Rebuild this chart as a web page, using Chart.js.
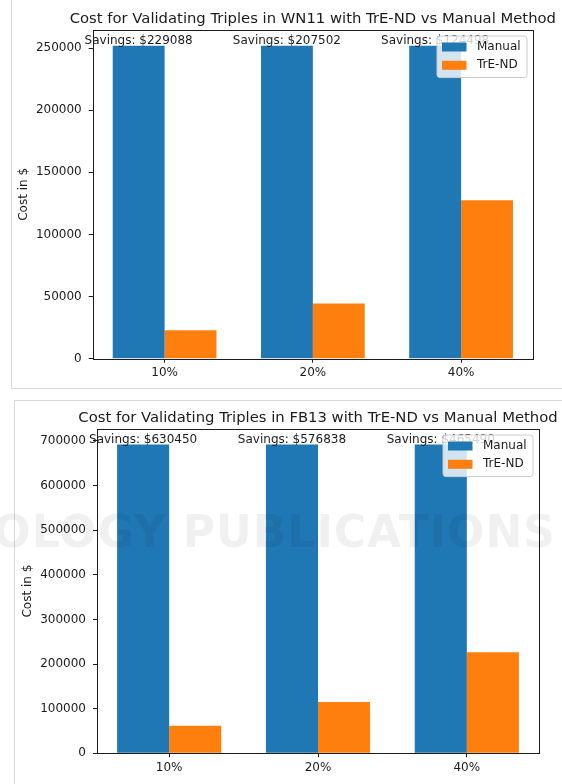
<!DOCTYPE html>
<html>
<head>
<meta charset="utf-8">
<title>Cost for Validating Triples: TrE-ND vs Manual Method</title>
<script src="https://cdn.jsdelivr.net/npm/chart.js@4.4.1/dist/chart.umd.min.js"></script>
<style>
  html, body { margin: 0; padding: 0; background: #ffffff; }
  body { width: 562px; height: 784px; position: relative; overflow: hidden; }
  .frame { position: absolute; border: 0 solid #d9d9d9; box-sizing: border-box; }
  #frame1 { left: 11px; top: 0; width: 551px; height: 389px; border-left-width: 1px; border-bottom-width: 1px; }
  #frame2 { left: 14px; top: 400px; width: 548px; height: 384px; border-left-width: 1px; border-top-width: 1px; }
  canvas { position: absolute; left: 0; }
  #wn11 { top: 0; }
  #fb13 { top: 390px; }
  .mark {
    position: absolute; right: 6px; top: 506px; white-space: nowrap;
    font: bold 44px "DejaVu Sans", sans-serif; letter-spacing: 1px;
    color: rgba(0, 0, 0, 0.06); pointer-events: none;
  }
</style>
</head>
<body>
<div class="frame" id="frame1"></div>
<div class="frame" id="frame2"></div>
<canvas id="wn11" width="562" height="390" style="width:562px;height:390px"></canvas>
<canvas id="fb13" width="562" height="394" style="width:562px;height:394px"></canvas>
<div class="mark">TECHNOLOGY PUBLICATIONS</div>
<script>
// Labelling budgets per dataset
const categories = ['10%', '20%', '40%'];
const seriesLabels = ['Manual', 'TrE-ND'];

// WN11 costs in $
const wn11Manual = [252000, 252000, 252000];
const wn11TrEND = [22912, 44498, 127502];
const wn11Ticks = [0, 50000, 100000, 150000, 200000, 250000];

// FB13 costs in $
const fb13Manual = [692000, 692000, 692000];
const fb13TrEND = [61550, 115162, 226510];
const fb13Ticks = [0, 100000, 200000, 300000, 400000, 500000, 600000, 700000];

const FONT = '"DejaVu Sans", "Liberation Sans", sans-serif';
const INK = '#1c1c1c';
const BLUE = '#1f77b4';
const ORANGE = '#ff7f0e';

// Title, y label, savings annotations, frame and legend
const decor = {
  id: 'decor',
  afterDatasetsDraw(chart) {
    const ctx = chart.ctx;
    const cfg = chart.options.plugins.decor;
    const manualMeta = chart.getDatasetMeta(0);
    ctx.save();
    ctx.fillStyle = INK;
    ctx.font = '12px ' + FONT;
    ctx.textAlign = 'center';
    ctx.textBaseline = 'bottom';
    manualMeta.data.forEach((bar, i) => {
      const saving = cfg.manual[i] - cfg.trend[i];
      ctx.fillText('Savings: $' + saving, bar.x, bar.y + 1);
    });
    ctx.restore();
  },
  afterDraw(chart) {
    const ctx = chart.ctx;
    const ca = chart.chartArea;
    const cfg = chart.options.plugins.decor;
    ctx.save();

    // axes box
    ctx.strokeStyle = INK;
    ctx.lineWidth = 1;
    const l = Math.round(ca.left) + 0.5, t = Math.round(ca.top) + 0.5;
    const r = Math.round(ca.right) + 0.5, b = Math.round(ca.bottom) + 0.5;
    ctx.strokeRect(l, t, r - l, b - t);

    // title
    ctx.fillStyle = INK;
    ctx.font = '14.8px ' + FONT;
    ctx.textAlign = 'center';
    ctx.textBaseline = 'alphabetic';
    ctx.fillText(cfg.title, (ca.left + ca.right) / 2, ca.top - 7);

    // y axis label
    ctx.save();
    ctx.translate(ca.left - 69, (ca.top + ca.bottom) / 2);
    ctx.rotate(-Math.PI / 2);
    ctx.font = '12px ' + FONT;
    ctx.textBaseline = 'middle';
    ctx.fillText('Cost in $', 0, 0);
    ctx.restore();

    // legend
    const lw = 90, lh = 41.6;
    const lx = ca.right - 6 - lw, ly = ca.top + 6;
    ctx.beginPath();
    ctx.roundRect(lx, ly, lw, lh, 3);
    ctx.fillStyle = 'rgba(255,255,255,0.8)';
    ctx.fill();
    ctx.strokeStyle = '#cccccc';
    ctx.lineWidth = 1;
    ctx.stroke();
    const rows = [ly + 11, ly + 29.3];
    chart.data.datasets.forEach((ds, i) => {
      ctx.fillStyle = ds.backgroundColor;
      ctx.fillRect(lx + 5, rows[i] - 4.5, 24.5, 9);
      ctx.fillStyle = INK;
      ctx.font = '12px ' + FONT;
      ctx.textAlign = 'left';
      ctx.textBaseline = 'middle';
      ctx.fillText(ds.label, lx + 40, rows[i]);
    });
    ctx.restore();
  }
};

function makeChart(canvas, title, manual, trend, yTicks, padding) {
  const xs = categories.map((_, i) => i);
  const yMax = Math.max(...manual, ...trend) * 1.05;
  const tickFont = { family: FONT, size: 12 };
  return new Chart(canvas, {
    type: 'bar',
    data: {
      datasets: [
        {
          label: seriesLabels[0],
          data: xs.map((x, i) => ({ x, y: manual[i] })),
          backgroundColor: BLUE, borderWidth: 0,
          categoryPercentage: 0.7, barPercentage: 1.0
        },
        {
          label: seriesLabels[1],
          data: xs.map((x, i) => ({ x, y: trend[i] })),
          backgroundColor: ORANGE, borderWidth: 0,
          categoryPercentage: 0.7, barPercentage: 1.0
        }
      ]
    },
    options: {
      responsive: false,
      animation: false,
      devicePixelRatio: 1,
      layout: { padding },
      events: [],
      plugins: {
        legend: { display: false },
        tooltip: { enabled: false },
        title: { display: false },
        decor: { title, manual, trend }
      },
      scales: {
        x: {
          type: 'linear',
          min: -0.485,
          max: categories.length - 1 + 0.485,
          offset: false,
          afterBuildTicks: s => { s.ticks = xs.map(v => ({ value: v })); },
          afterFit: s => { s.height = 25; },
          ticks: {
            callback: v => categories[v],
            color: INK, font: tickFont, padding: 3,
            maxRotation: 0, autoSkip: false
          },
          grid: { offset: false, drawOnChartArea: false, drawTicks: true, tickLength: 4, color: INK, lineWidth: 1 },
          border: { display: false }
        },
        y: {
          min: 0,
          max: yMax,
          afterBuildTicks: s => { s.ticks = yTicks.map(v => ({ value: v })); },
          afterFit: s => { s.width = 80; },
          ticks: {
            callback: v => String(v),
            color: INK, font: tickFont, padding: 7, autoSkip: false
          },
          grid: { offset: false, drawOnChartArea: false, drawTicks: true, tickLength: 4, color: INK, lineWidth: 1 },
          border: { display: false }
        }
      }
    },
    plugins: [decor]
  });
}

makeChart(document.getElementById('wn11'),
  'Cost for Validating Triples in WN11 with TrE-ND vs Manual Method',
  wn11Manual, wn11TrEND, wn11Ticks,
  { left: 12.7, top: 30, right: 29, bottom: 6.3 });

makeChart(document.getElementById('fb13'),
  'Cost for Validating Triples in FB13 with TrE-ND vs Manual Method',
  fb13Manual, fb13TrEND, fb13Ticks,
  { left: 17, top: 39, right: 23, bottom: 5.7 });
</script>
</body>
</html>
